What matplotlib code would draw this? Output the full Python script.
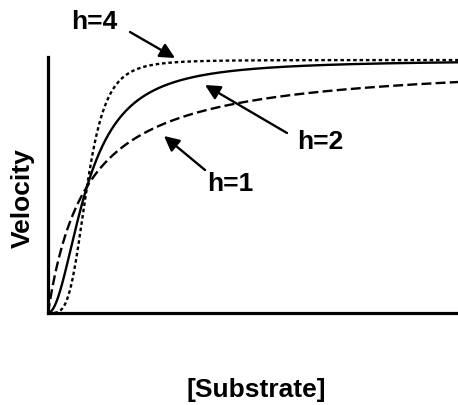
import numpy as np
import matplotlib
matplotlib.use("Agg")
import matplotlib.pyplot as plt

plt.rcParams['font.family'] = ['Liberation Sans', 'DejaVu Sans']

# Hill kinetics: v = Vmax * S^h / (K^h + S^h)
hill_coeffs = [1, 2, 4]
labels = ["h=1", "h=2", "h=4"]
styles = [(0, (4.2, 1.8)), "-", (0, (1.5, 1.2))]
K = 1.0
Vmax = 1.0
S_max = 10.5

W, H = 458, 405
fig = plt.figure(figsize=(W / 100, H / 100), dpi=100)
# axes box in pixel terms: left 48, right 458, bottom 313, top 57
x0, x1, yb, yt = 48, 458, 313, 57
ax = fig.add_axes([x0 / W, (H - yb) / H, (x1 - x0) / W, (yb - yt) / H])

ymax = 1.012
ax.set_xlim(0, S_max)
ax.set_ylim(0, ymax)

S = np.linspace(0, S_max, 1500)
for h, ls in zip(hill_coeffs, styles):
    v = Vmax * S**h / (K**h + S**h)
    ax.plot(S, v, color="black", lw=1.7, linestyle=ls, dash_capstyle="butt")

for side in ["top", "right"]:
    ax.spines[side].set_visible(False)
for side in ["left", "bottom"]:
    ax.spines[side].set_linewidth(2.3)
ax.set_xticks([])
ax.set_yticks([])


def to_data(px, py):
    return ((px - x0) / (x1 - x0) * S_max, (yb - py) / (yb - yt) * ymax)


# (label, text centre px, arrow tip px, arrow tail px)
annots = {
    "h=4": ((94, 22), (175, 58), (130, 32)),
    "h=2": ((320, 142), (205, 85), (287, 133)),
    "h=1": ((230, 184), (164, 136), (205, 170)),
}
for lab in labels:
    (tx, ty), (ax_, ay), (sx, sy) = annots[lab]
    ax.text(*to_data(tx, ty), lab, ha="center", va="center",
            fontsize=19, fontweight="bold", clip_on=False)
    ax.annotate("", xy=to_data(ax_, ay), xytext=to_data(sx, sy),
                arrowprops=dict(arrowstyle="-|>,head_length=0.9,head_width=0.45",
                                color="black", lw=1.7, shrinkA=0, shrinkB=0),
                annotation_clip=False)

fig.text(23 / W, 1 - 198 / H, "Velocity", rotation=90, ha="center", va="center",
         fontsize=19, fontweight="bold")
fig.text(256 / W, 1 - 390 / H, "[Substrate]", ha="center", va="center",
         fontsize=19, fontweight="bold")

fig.savefig("out.png", dpi=100)
